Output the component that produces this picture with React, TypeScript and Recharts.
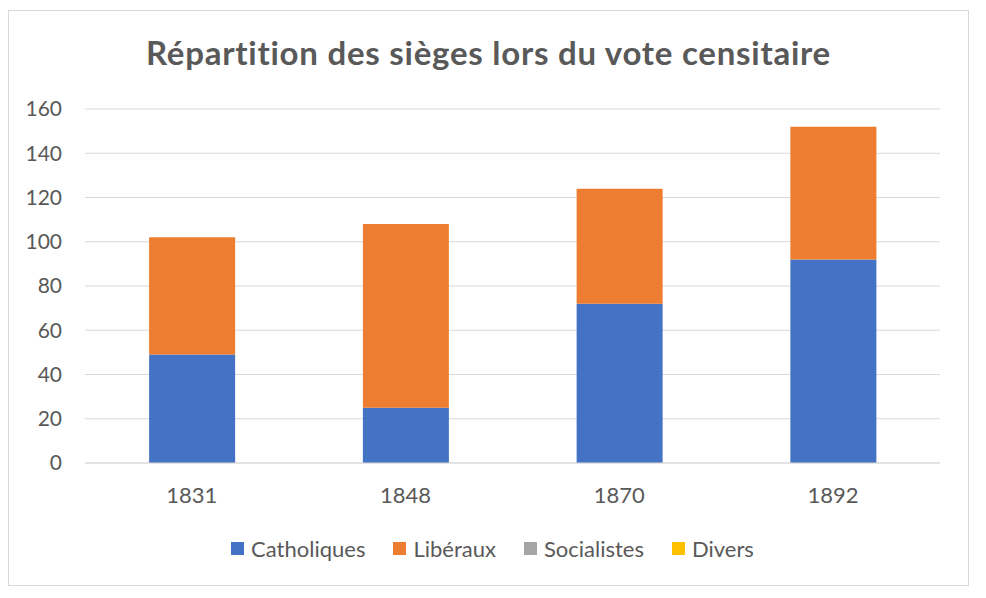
import { BarChart, Bar, XAxis, YAxis, CartesianGrid, Legend } from 'recharts';

// seats per party
const years = ['1831', '1848', '1870', '1892'];
const catholiques = [49, 25, 72, 92];
const liberaux = [53, 83, 52, 60];
const socialistes = [0, 0, 0, 0];
const divers = [0, 0, 0, 0];
const yTicks = [0, 20, 40, 60, 80, 100, 120, 140, 160];

const SERIES = [
  { key: 'Catholiques', color: '#4472C4' },
  { key: 'Libéraux', color: '#ED7D31' },
  { key: 'Socialistes', color: '#A5A5A5' },
  { key: 'Divers', color: '#FFC000' },
];

const FONT = 'Lato, "Open Sans", sans-serif';
const TEXT = '#595959';

const data = years.map((year, i) => ({
  year,
  Catholiques: catholiques[i],
  Libéraux: liberaux[i],
  Socialistes: socialistes[i],
  Divers: divers[i],
}));

function LegendContent() {
  return (
    <div style={{ display: 'flex', justifyContent: 'center', alignItems: 'center', height: 24, paddingLeft: 8, fontFamily: FONT, fontSize: 22, color: TEXT }}>
      {SERIES.map((s, i) => (
        <div key={s.key} style={{ display: 'flex', alignItems: 'center', marginLeft: i ? 28 : 0 }}>
          <span style={{ width: 13, height: 13, background: s.color, marginRight: 7, display: 'inline-block' }} />
          <span>{s.key}</span>
        </div>
      ))}
    </div>
  );
}

export default function App() {
  return (
    <div style={{ position: 'absolute', left: 8, top: 10, width: 961, height: 576, border: '1px solid #d9d9d9', boxSizing: 'border-box', background: '#fff' }}>
      <div style={{ position: 'absolute', left: 0, top: 25, width: '100%', textAlign: 'center', fontFamily: FONT, fontWeight: 700, fontSize: 33, lineHeight: '33px', letterSpacing: 0.75, color: TEXT }}>
        Répartition des sièges lors du vote censitaire
      </div>
      <BarChart width={959} height={574} data={data} margin={{ top: 98, right: 28, left: 0, bottom: 68 }} barCategoryGap="30%">
        <CartesianGrid vertical={false} stroke="#d9d9d9" strokeWidth={1} />
        <XAxis dataKey="year" height={30} tick={{ fontSize: 22, fill: TEXT, fontFamily: FONT }} tickLine={false} axisLine={{ stroke: '#d9d9d9' }} tickMargin={18} />
        <YAxis width={76} domain={[0, 160]} ticks={yTicks} tick={{ fontSize: 21, fill: TEXT, fontFamily: FONT }} tickLine={false} axisLine={false} tickMargin={17} />
        <Legend content={<LegendContent />} wrapperStyle={{ top: 525, left: 0, width: 959, height: 24 }} />
        {SERIES.map((s) => (
          <Bar key={s.key} dataKey={s.key} stackId="seats" fill={s.color} isAnimationActive={false} />
        ))}
      </BarChart>
    </div>
  );
}
